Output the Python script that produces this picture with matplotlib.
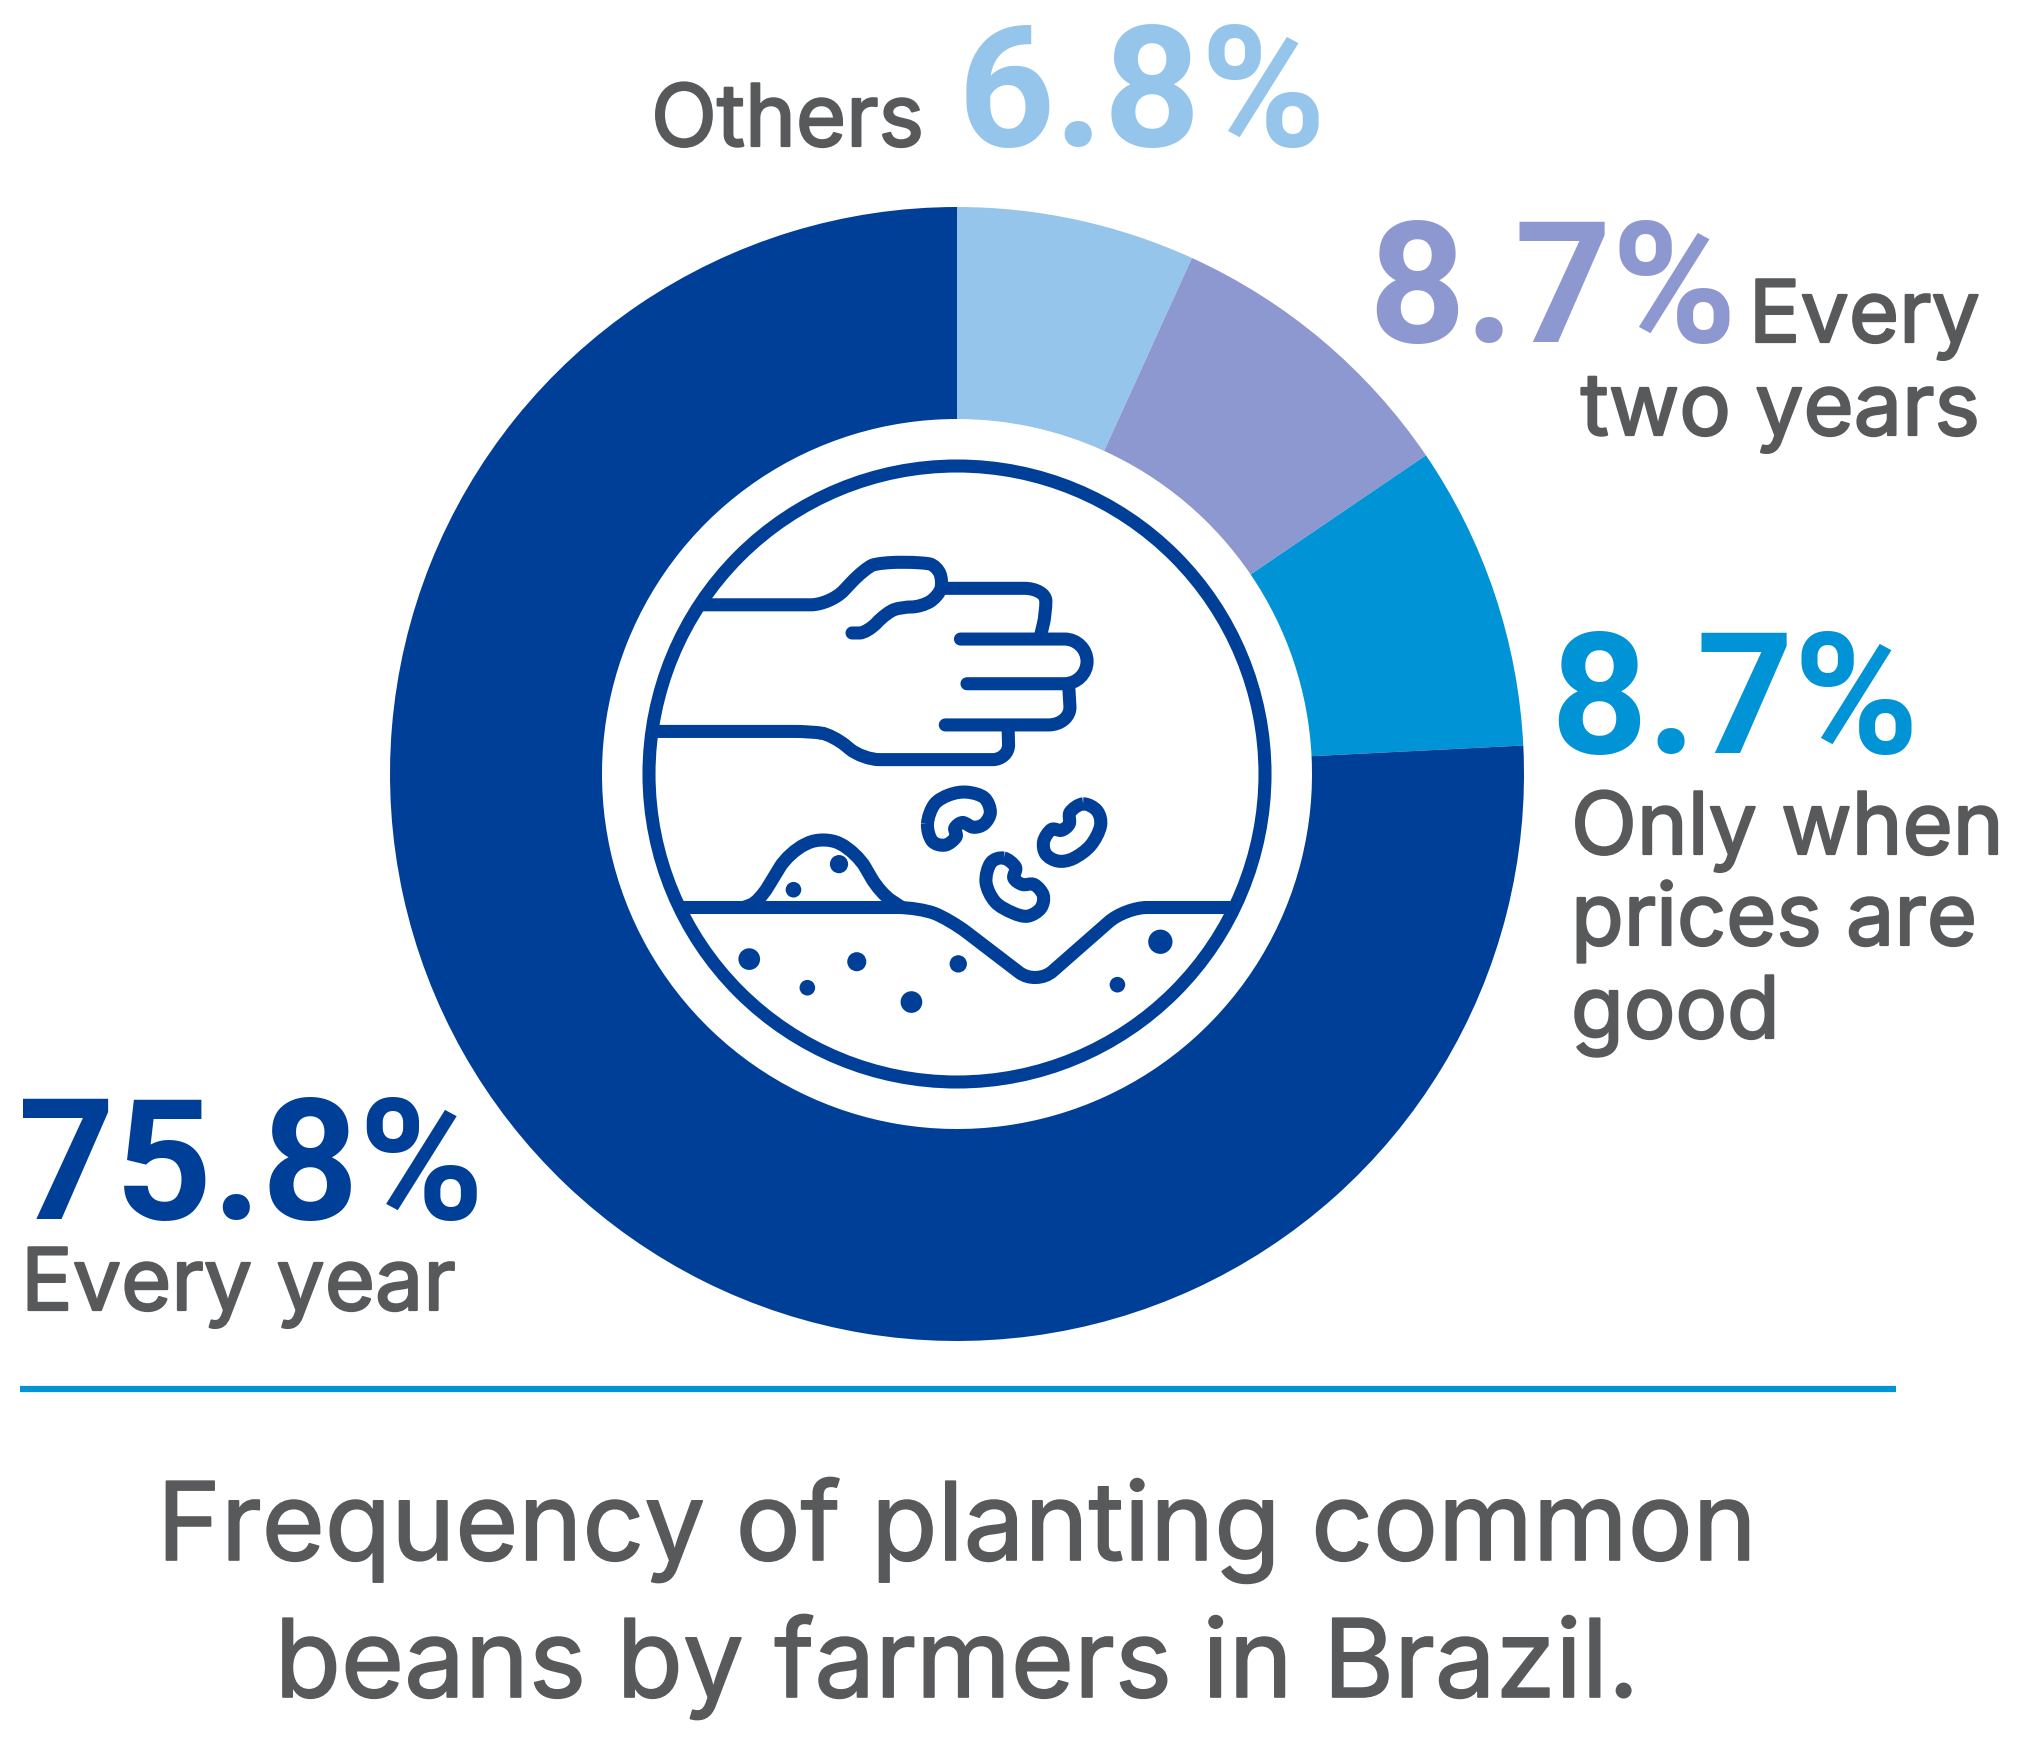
import numpy as np
import matplotlib
matplotlib.use('Agg')
import matplotlib.pyplot as plt
from matplotlib.path import Path
from matplotlib.patches import PathPatch, Circle
import matplotlib.patheffects as pe

plt.rcParams['font.family'] = ['Inter', 'DejaVu Sans']

# data
categories = ['Others', 'Every two years', 'Only when prices are good', 'Every year']
values = [6.8, 8.7, 8.7, 75.8]
colors = ['#96c5ec', '#8e98d0', '#0093d5', '#003f98']
GRAY = '#58595b'
W, H = 2022, 1753
CX, CY = 957, 774
LW = 9.4

fig = plt.figure(figsize=(W / 100, H / 100), dpi=100)
ax = fig.add_axes([0, 0, 1, 1])

# donut, y is flipped afterwards so build in up coordinates
ax.pie(values, colors=colors, startangle=90, counterclock=False, radius=567,
       center=(CX, H - CY), wedgeprops=dict(width=212, linewidth=0), frame=True)
ax.set_xlim(0, W)
ax.set_ylim(0, H)
ax.axis('off')


def up(y):
    return H - y


def icon_xy(p):
    # crop of the icon: 680 px shown at 1568
    k = 680 / 1568
    return (620 + p[0] * k, up(440 + p[1] * k))


def rounded(pts, r):
    # polyline with circular looking corners
    pts = [np.array(icon_xy(p)) for p in pts]
    r = r * 680 / 1568
    verts, codes = [pts[0]], [Path.MOVETO]
    for i in range(1, len(pts) - 1):
        p0, p1, p2 = pts[i - 1], pts[i], pts[i + 1]
        d0, d1 = p0 - p1, p2 - p1
        l0, l1 = np.hypot(*d0), np.hypot(*d1)
        a = p1 + d0 / l0 * min(r, l0 / 2)
        b = p1 + d1 / l1 * min(r, l1 / 2)
        verts += [a, a + (p1 - a) * 0.55, b + (p1 - b) * 0.55, b]
        codes += [Path.LINETO, Path.CURVE4, Path.CURVE4, Path.CURVE4]
    verts.append(pts[-1])
    codes.append(Path.LINETO)
    return Path(verts, codes)


def spline(pts):
    # closed catmull-rom through pts
    pts = [np.array(icon_xy(p)) for p in pts]
    n = len(pts)
    verts, codes = [pts[0]], [Path.MOVETO]
    for i in range(n):
        p0, p1, p2, p3 = pts[i - 1], pts[i], pts[(i + 1) % n], pts[(i + 2) % n]
        verts += [p1 + (p2 - p0) / 6, p2 - (p3 - p1) / 6, p2]
        codes += [Path.CURVE4] * 3
    return Path(verts, codes)


# icon
ax.add_patch(Circle((CX, up(CY)), 308, fc='none', ec=colors[3], lw=LW))
clip = Circle((CX, up(CY)), 308, transform=ax.transData)

arm_top = [(150, 380), (485, 380), (565, 295), (600, 282), (700, 282), (730, 290), (745, 325), (735, 360), (695, 385),
           (650, 385), (615, 397), (570, 445), (535, 445)]
finger1 = [(750, 342), (982, 342), (982, 400), (970, 450)]
finger2 = [(785, 459), (1077, 459), (1077, 562), (800, 562)]
finger3 = [(1035, 572), (1040, 657), (750, 657)]
finger4 = [(895, 668), (897, 737), (560, 737), (490, 680), (440, 672), (40, 672)]
ground = [(100, 1078), (690, 1078), (760, 1105), (960, 1258), (1165, 1078), (1450, 1078)]
mound = [(285, 1078), (320, 1065), (390, 950), (470, 912), (545, 950), (600, 1045), (650, 1078)]
icon_lines = [(arm_top, 45), (finger1, 50), (finger2, 52), (finger3, 52), (finger4, 38), (ground, 50), (mound, 40)]
for pts, r in icon_lines:
    patch = PathPatch(rounded(pts, r), fc='none', ec=colors[3], lw=LW, capstyle='round', joinstyle='round')
    ax.add_patch(patch)
    patch.set_clip_path(clip)

bean1 = [(709, 885), (725, 840), (760, 818), (800, 812), (840, 825), (854, 858), (840, 885), (815, 893), (790, 882),
         (772, 895), (775, 915), (750, 934), (720, 925)]
bean2 = [(1068, 839), (1100, 855), (1108, 890), (1085, 935), (1045, 965), (1010, 971), (982, 955), (977, 925),
         (995, 898), (1018, 900), (1036, 885), (1038, 858)]
bean3 = [(885, 964), (855, 975), (844, 1020), (865, 1065), (905, 1090), (940, 1098), (970, 1080), (976, 1050),
         (955, 1025), (928, 1025), (908, 1010), (912, 985)]
for pts in (bean1, bean2, bean3):
    ax.add_patch(PathPatch(spline(pts), fc='none', ec=colors[3], lw=LW, joinstyle='round'))

dots = [(298, 1197, 25), (432, 1263, 18), (546, 1203, 22), (672, 1296, 25), (780, 1208, 20), (1147, 1256, 18),
        (1246, 1157, 28), (505, 978, 21), (400, 1037, 18)]
for x, y, r in dots:
    ax.add_patch(Circle(icon_xy((x, y)), r * 680 / 1568, fc=colors[3], ec='none'))

# labels, strokes make the weight up
big = dict(fontsize=122, fontweight='bold', va='baseline', family=['Roboto', 'DejaVu Sans'])
lab = dict(fontsize=62, color=GRAY, va='baseline',
           path_effects=[pe.withStroke(linewidth=1.6, foreground=GRAY)])
cap = dict(fontsize=78, color=GRAY, va='baseline', ha='center',
           path_effects=[pe.withStroke(linewidth=1.2, foreground=GRAY)])
ax.text(651, up(146), 'Others', ha='left', **lab)
ax.text(958, up(146), '6.8%', ha='left', color=colors[0], **big)
ax.text(1368, up(342), '8.7%', ha='left', color=colors[1], **big)
ax.text(1980, up(342), 'Every', ha='right', **lab)
ax.text(1980, up(435), 'two years', ha='right', **lab)
ax.text(1550, up(753), '8.7%', ha='left', color=colors[2], **big)
ax.text(1571, up(854), 'Only when', ha='left', **lab)
ax.text(1571, up(945), 'prices are', ha='left', **lab)
ax.text(1571, up(1038), 'good', ha='left', **lab)
ax.text(18, up(1219), '75.8%', ha='left', color=colors[3], **big)
ax.text(21, up(1310), 'Every year', ha='left', **lab)

# rule and caption
ax.plot([20, 1896], [up(1389), up(1389)], color=colors[2], lw=4.5, solid_capstyle='butt')
ax.text(957, up(1560), 'Frequency of planting common', **cap)
ax.text(957, up(1697), 'beans by farmers in Brazil.', **cap)

fig.savefig('out.png', dpi=100, facecolor='white')
